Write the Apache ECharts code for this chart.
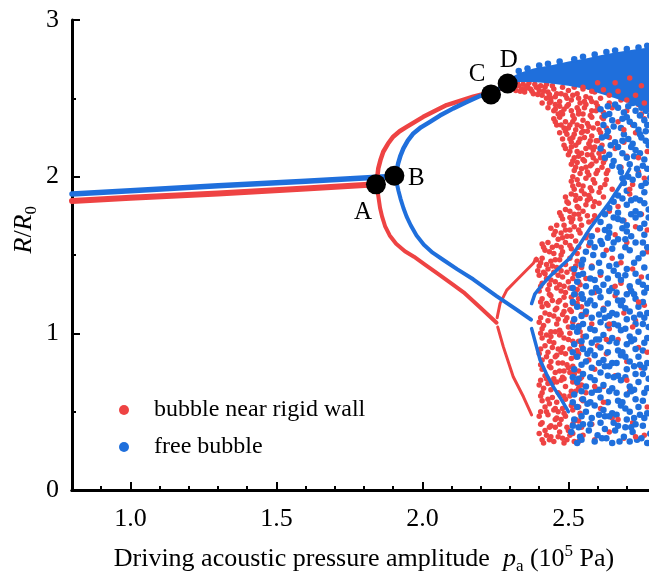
<!DOCTYPE html>
<html><head><meta charset="utf-8">
<script src="https://cdn.jsdelivr.net/npm/echarts@6/dist/echarts.min.js"></script>
<style>html,body{margin:0;padding:0;background:#fff}#c{width:649px;height:575px}</style>
</head><body><div id="c"></div>
<script>
// ---------- data ----------
const xMajorTicks = [1.0, 1.5, 2.0, 2.5];
const xMinorTicks = [0.9, 1.1, 1.2, 1.3, 1.4, 1.6, 1.7, 1.8, 1.9, 2.1, 2.2, 2.3, 2.4, 2.6, 2.7];
const yMajorTicks = [0, 1, 2, 3];
const yMinorTicks = [0.5, 1.5, 2.5];
const seriesNames = ['bubble near rigid wall', 'free bubble'];

// period-1 branches
const redP1 = [[0.8,1.845],[1.0,1.865],[1.3,1.893],[1.6,1.925],[1.845,1.952]];
const blueP1 = [[0.8,1.89],[1.0,1.91],[1.3,1.942],[1.6,1.97],[1.905,2.003]];
// period-2 branches after first bifurcation
const redUp = [[1.843,1.96],[1.849,2.053],[1.857,2.11],[1.866,2.159],[1.882,2.21],[1.90,2.255],[1.922,2.29],[1.946,2.318],[2.003,2.382],[2.083,2.457],[2.174,2.51],[2.235,2.54],[2.29,2.58]];
const redLow = [[1.845,1.93],[1.85,1.863],[1.855,1.80],[1.862,1.745],[1.872,1.685],[1.888,1.625],[1.91,1.572],[1.94,1.524],[1.971,1.489],[2.01,1.437],[2.056,1.377],[2.10,1.318],[2.141,1.262],[2.198,1.165],[2.254,1.068]];
const blueUp = [[1.912,2.04],[1.917,2.085],[1.925,2.135],[1.935,2.18],[1.95,2.23],[1.969,2.276],[1.995,2.315],[2.026,2.35],[2.06,2.39],[2.106,2.436],[2.15,2.475],[2.197,2.515],[2.235,2.53],[2.292,2.595]];
const blueLow = [[1.912,1.96],[1.918,1.91],[1.925,1.86],[1.935,1.80],[1.946,1.745],[1.96,1.69],[1.98,1.625],[2.005,1.565],[2.035,1.515],[2.072,1.468],[2.12,1.408],[2.174,1.345],[2.254,1.238],[2.32,1.155],[2.372,1.087]];
// period-4 branches
const redP2Up = [[2.256,1.10],[2.266,1.191],[2.289,1.276],[2.323,1.34],[2.357,1.404],[2.38,1.447],[2.39,1.48]];
const redP2Low = [[2.258,1.04],[2.277,0.915],[2.311,0.723],[2.346,0.595],[2.374,0.479]];
const blueP2Up = [[2.374,1.19],[2.385,1.25],[2.41,1.31],[2.44,1.37],[2.47,1.42],[2.505,1.48],[2.54,1.57],[2.574,1.67],[2.608,1.755],[2.642,1.84],[2.68,1.95],[2.71,2.05]];
const blueP2Low = [[2.374,1.03],[2.39,0.92],[2.403,0.83],[2.425,0.74],[2.448,0.66],[2.475,0.58],[2.50,0.50]];

// chaotic region, near-wall bubble
const redCloud = [
[2.31,2.57],[2.32,2.55],[2.33,2.58],[2.34,2.56],[2.35,2.54],[2.36,2.58],[2.37,2.56],[2.38,2.53],[2.39,2.57],[2.40,2.55],[2.41,2.52],[2.42,2.57],[2.43,2.54],[2.44,2.50],[2.45,2.56],[2.46,2.53],[2.47,2.48],[2.48,2.57],[2.49,2.52],[2.50,2.55],[2.51,2.49],[2.52,2.57],[2.53,2.53],[2.54,2.47],[2.55,2.56],[2.56,2.51],[2.57,2.57],[2.58,2.48],[2.59,2.54],[2.61,2.50],[2.62,2.56],[2.64,2.47],[2.66,2.53],[2.68,2.49],[2.71,2.55],[2.74,2.46],[2.77,2.52],
[2.305,2.59],[2.325,2.60],[2.345,2.59],[2.365,2.60],[2.385,2.59],[2.405,2.58],[2.425,2.59],[2.445,2.58],
[2.41,2.47],[2.43,2.44],[2.44,2.48],[2.45,2.42],[2.47,2.45],[2.48,2.40],[2.50,2.46],[2.51,2.42],[2.53,2.44],[2.55,2.40],[2.56,2.46],[2.58,2.42],[2.60,2.45],[2.62,2.41],[2.65,2.44],[2.70,2.42],[2.75,2.40],
[2.45,2.37],[2.46,2.33],[2.47,2.38],[2.49,2.35],[2.50,2.31],[2.52,2.37],[2.53,2.33],[2.55,2.36],[2.57,2.32],[2.58,2.38],[2.60,2.34],[2.62,2.37],[2.63,2.31],[2.67,2.35],[2.72,2.33],[2.76,2.37],
[2.47,2.28],[2.48,2.24],[2.49,2.29],[2.51,2.22],[2.52,2.27],[2.54,2.24],[2.55,2.29],[2.57,2.21],[2.58,2.26],[2.60,2.23],[2.61,2.28],[2.64,2.25],[2.69,2.22],[2.73,2.28],
[2.49,2.18],[2.50,2.14],[2.51,2.19],[2.52,2.12],[2.53,2.16],[2.55,2.11],[2.56,2.18],[2.58,2.14],[2.59,2.19],[2.61,2.12],[2.62,2.16],[2.66,2.18],[2.70,2.13],[2.77,2.16],
[2.51,2.08],[2.52,2.04],[2.53,2.09],[2.54,2.02],[2.56,2.06],[2.57,2.01],[2.58,2.08],[2.60,2.04],[2.62,2.09],[2.63,2.02],[2.68,2.06],[2.74,2.03],
[2.51,1.97],[2.52,1.92],[2.53,1.98],[2.55,1.94],[2.56,1.99],[2.58,1.91],[2.59,1.96],[2.61,1.93],[2.63,1.98],[2.65,1.92],[2.72,1.95],[2.76,1.99],
[2.49,1.87],[2.50,1.83],[2.51,1.89],[2.53,1.81],[2.54,1.86],[2.56,1.82],[2.57,1.88],[2.59,1.84],[2.62,1.87],[2.67,1.81],[2.71,1.89],
[2.47,1.77],[2.48,1.73],[2.49,1.79],[2.51,1.71],[2.52,1.76],[2.54,1.73],[2.55,1.78],[2.57,1.71],[2.59,1.75],[2.64,1.78],[2.69,1.72],[2.75,1.76],
[2.44,1.67],[2.45,1.63],[2.46,1.69],[2.48,1.61],[2.49,1.66],[2.51,1.62],[2.52,1.68],[2.54,1.64],[2.56,1.61],[2.60,1.66],[2.66,1.63],[2.73,1.68],
[2.41,1.57],[2.42,1.53],[2.43,1.58],[2.45,1.51],[2.46,1.56],[2.48,1.52],[2.49,1.58],[2.51,1.54],[2.53,1.51],[2.57,1.56],[2.63,1.53],[2.70,1.58],[2.77,1.52],
[2.39,1.47],[2.40,1.43],[2.41,1.48],[2.43,1.41],[2.44,1.46],[2.46,1.42],[2.47,1.47],[2.49,1.44],[2.51,1.41],[2.53,1.46],[2.58,1.43],[2.65,1.48],[2.72,1.41],
[2.40,1.37],[2.41,1.32],[2.42,1.38],[2.44,1.34],[2.45,1.39],[2.47,1.31],[2.48,1.36],[2.50,1.33],[2.52,1.38],[2.54,1.31],[2.56,1.35],[2.61,1.37],[2.68,1.32],[2.75,1.36],
[2.40,1.27],[2.41,1.22],[2.43,1.28],[2.44,1.24],[2.46,1.29],[2.47,1.21],[2.49,1.26],[2.51,1.23],[2.53,1.28],[2.55,1.22],[2.59,1.26],[2.66,1.24],[2.71,1.29],
[2.41,1.17],[2.42,1.13],[2.43,1.18],[2.45,1.11],[2.46,1.16],[2.48,1.12],[2.49,1.18],[2.51,1.14],[2.53,1.19],[2.56,1.12],[2.62,1.16],[2.69,1.13],[2.76,1.18],
[2.40,1.07],[2.41,1.03],[2.43,1.08],[2.44,1.01],[2.46,1.06],[2.47,1.02],[2.49,1.08],[2.50,1.04],[2.52,1.09],[2.54,1.01],[2.58,1.06],[2.64,1.03],[2.73,1.08],
[2.41,0.97],[2.42,0.92],[2.44,0.98],[2.45,0.94],[2.47,0.99],[2.48,0.91],[2.50,0.96],[2.52,0.93],[2.55,0.98],[2.60,0.92],[2.67,0.96],[2.74,0.91],
[2.40,0.87],[2.41,0.83],[2.43,0.88],[2.44,0.82],[2.46,0.86],[2.48,0.81],[2.49,0.87],[2.51,0.84],[2.53,0.89],[2.57,0.83],[2.63,0.87],[2.70,0.82],
[2.41,0.77],[2.42,0.73],[2.44,0.78],[2.45,0.71],[2.47,0.76],[2.48,0.72],[2.50,0.78],[2.52,0.74],[2.54,0.71],[2.59,0.77],[2.66,0.73],[2.75,0.78],
[2.40,0.67],[2.41,0.62],[2.43,0.68],[2.44,0.64],[2.46,0.69],[2.47,0.61],[2.49,0.66],[2.51,0.63],[2.53,0.68],[2.56,0.62],[2.62,0.66],[2.71,0.63],
[2.41,0.57],[2.42,0.53],[2.43,0.58],[2.45,0.51],[2.46,0.56],[2.48,0.52],[2.49,0.58],[2.51,0.54],[2.55,0.57],[2.61,0.52],[2.68,0.56],[2.77,0.53],
[2.40,0.47],[2.41,0.43],[2.43,0.48],[2.44,0.41],[2.46,0.46],[2.47,0.42],[2.49,0.47],[2.52,0.44],[2.54,0.49],[2.58,0.42],[2.65,0.46],[2.72,0.43],
[2.40,0.36],[2.41,0.32],[2.42,0.38],[2.44,0.34],[2.45,0.31],[2.47,0.37],[2.48,0.33],[2.50,0.38],[2.52,0.31],[2.55,0.35],[2.59,0.32],[2.64,0.37],[2.69,0.33],[2.76,0.35],
[2.405,1.45],[2.425,1.35],[2.435,1.25],[2.455,1.15],[2.415,1.05],[2.435,0.95],[2.425,0.85],[2.455,0.75],[2.415,0.65],[2.435,0.55],[2.455,0.45],[2.425,0.35],[2.475,1.40],[2.485,1.30],[2.465,1.20],[2.495,1.10],[2.475,1.00],[2.465,0.90],[2.495,0.80],[2.475,0.70],[2.485,0.60],[2.465,0.50],[2.495,0.40],[2.485,0.30],[2.515,1.35],[2.525,1.25],[2.505,1.15],[2.535,1.05],[2.515,0.95],[2.525,0.85],[2.505,0.75],[2.535,0.65],[2.515,0.55],[2.525,0.45],[2.505,0.35],[2.545,1.42],[2.545,1.17],[2.545,0.92],[2.545,0.67],[2.545,0.40],
[2.425,2.50],[2.455,2.46],[2.465,2.40],[2.485,2.43],[2.475,2.33],[2.495,2.27],[2.515,2.35],[2.535,2.40],[2.525,2.20],[2.545,2.28],[2.565,2.34],[2.505,2.16],[2.545,2.15],[2.575,2.23],[2.525,2.06],[2.555,2.10],[2.585,2.17],[2.535,1.95],[2.565,2.03],[2.595,2.10],[2.525,1.85],[2.555,1.89],[2.585,1.98],[2.505,1.78],[2.535,1.80],[2.575,1.86],[2.485,1.69],[2.515,1.73],[2.545,1.69],[2.465,1.60],[2.495,1.62],[2.525,1.59],[2.445,1.55],[2.475,1.50],[2.505,1.48],[2.425,1.44],[2.455,1.47],
[2.315,2.565],[2.335,2.545],[2.355,2.565],[2.375,2.545],[2.395,2.525],[2.415,2.545],[2.435,2.525],[2.455,2.51],[2.475,2.53],[2.495,2.50],[2.515,2.52],[2.535,2.50],[2.555,2.48],[2.575,2.50],[2.595,2.47],
[2.435,2.47],[2.455,2.43],[2.475,2.41],[2.495,2.45],[2.515,2.39],[2.535,2.42],[2.555,2.44],[2.575,2.39],[2.595,2.42],[2.615,2.38],
[2.455,2.35],[2.485,2.31],[2.505,2.33],[2.525,2.30],[2.545,2.32],[2.565,2.29],[2.585,2.31],[2.605,2.30],
[2.485,2.20],[2.505,2.24],[2.515,2.25],[2.535,2.22],[2.555,2.25],[2.575,2.19],[2.595,2.23],[2.615,2.20],
[2.515,2.10],[2.535,2.13],[2.565,2.14],[2.585,2.12],[2.605,2.15],[2.625,2.11],
[2.515,2.00],[2.545,2.05],[2.575,2.07],[2.595,2.02],[2.615,2.06],[2.635,2.04],
[2.515,1.94],[2.545,1.91],[2.575,1.93],[2.605,1.90],[2.625,1.95],
[2.495,1.84],[2.525,1.88],[2.565,1.85],[2.585,1.81],[2.605,1.83],
[2.475,1.75],[2.505,1.74],[2.535,1.76],[2.565,1.75],[2.585,1.72],
[2.455,1.65],[2.475,1.64],[2.505,1.66],[2.535,1.66],[2.565,1.63],
[2.415,1.55],[2.435,1.52],[2.475,1.55],[2.505,1.56],[2.535,1.55],
[2.395,1.40],[2.415,1.39],[2.445,1.43],[2.465,1.37],[2.495,1.39],[2.525,1.43],
[2.405,1.30],[2.435,1.31],[2.455,1.33],[2.475,1.27],[2.505,1.29],[2.535,1.33],
[2.405,1.20],[2.425,1.19],[2.445,1.21],[2.485,1.23],[2.515,1.19],[2.535,1.22],
[2.405,1.10],[2.435,1.12],[2.465,1.09],[2.485,1.14],[2.515,1.07],[2.545,1.12],
[2.405,1.00],[2.425,0.99],[2.455,1.01],[2.485,0.97],[2.505,1.00],[2.535,0.95],
[2.405,0.90],[2.445,0.91],[2.455,0.85],[2.475,0.88],[2.505,0.90],[2.535,0.87],
[2.405,0.80],[2.435,0.79],[2.465,0.81],[2.485,0.76],[2.515,0.79],[2.535,0.76],
[2.405,0.70],[2.425,0.71],[2.445,0.68],[2.485,0.71],[2.515,0.69],[2.545,0.72],
[2.405,0.60],[2.445,0.59],[2.465,0.62],[2.505,0.60],[2.525,0.63],[2.545,0.58],
[2.405,0.50],[2.425,0.50],[2.455,0.52],[2.485,0.49],[2.515,0.51],[2.535,0.53],
[2.405,0.42],[2.435,0.40],[2.455,0.40],[2.475,0.45],[2.515,0.42],[2.535,0.44],
[2.415,0.30],[2.435,0.32],[2.465,0.34],[2.495,0.32],[2.515,0.36],[2.535,0.31]
];

// chaotic region, free bubble
const blueBand = [[2.29,2.62],[2.33,2.66],[2.38,2.69],[2.45,2.715],[2.50,2.735],[2.56,2.755],[2.61,2.775],[2.67,2.795],[2.72,2.81],[2.78,2.825],[2.78,2.42],[2.72,2.46],[2.66,2.50],[2.61,2.53],[2.56,2.56],[2.50,2.58],[2.44,2.595],[2.38,2.605],[2.33,2.605],[2.29,2.595]];
const blueCloud = [
[2.33,2.675],[2.36,2.69],[2.40,2.71],[2.43,2.72],[2.47,2.735],[2.52,2.75],[2.55,2.765],[2.59,2.78],[2.63,2.795],[2.66,2.805],[2.70,2.815],[2.74,2.825],[2.77,2.835],
[2.61,2.43],[2.64,2.40],[2.67,2.44],[2.70,2.38],[2.73,2.42],[2.76,2.36],[2.62,2.33],[2.65,2.36],[2.68,2.31],[2.71,2.35],[2.74,2.30],[2.77,2.33],[2.63,2.26],[2.66,2.22],[2.69,2.27],[2.72,2.21],[2.75,2.25],[2.61,2.18],[2.64,2.14],[2.67,2.19],[2.70,2.12],[2.73,2.17],[2.76,2.11],[2.65,2.07],[2.68,2.03],[2.71,2.08],[2.74,2.01],[2.77,2.05],[2.69,1.96],[2.72,1.98],[2.75,1.94],[2.78,1.99],[2.66,2.46],[2.69,2.41],[2.72,2.47],[2.75,2.44],[2.78,2.39],[2.635,2.29],[2.705,2.24],[2.775,2.20],[2.655,2.10],[2.725,2.13],[2.755,2.07],
[2.56,1.52],[2.59,1.55],[2.62,1.50],[2.65,1.54],[2.68,1.49],[2.71,1.53],[2.74,1.48],[2.77,1.55],[2.58,1.62],[2.61,1.59],[2.64,1.64],[2.67,1.60],[2.70,1.65],[2.73,1.58],[2.76,1.63],[2.61,1.71],[2.64,1.68],[2.67,1.73],[2.70,1.69],[2.73,1.74],[2.76,1.70],[2.64,1.80],[2.67,1.77],[2.70,1.82],[2.73,1.78],[2.76,1.83],[2.67,1.88],[2.70,1.91],[2.73,1.86],[2.76,1.90],[2.55,1.47],[2.585,1.50],[2.615,1.57],[2.655,1.58],[2.685,1.67],[2.715,1.62],[2.745,1.76],[2.655,1.74],[2.715,1.85],[2.775,1.79],[2.695,1.55],[2.755,1.51],
[2.52,1.41],[2.55,1.38],[2.58,1.42],[2.61,1.39],[2.64,1.43],[2.67,1.37],[2.70,1.41],[2.73,1.38],[2.76,1.42],
[2.53,1.33],[2.56,1.30],[2.59,1.34],[2.62,1.31],[2.65,1.29],[2.68,1.34],[2.71,1.30],[2.74,1.33],[2.77,1.29],
[2.52,1.25],[2.55,1.22],[2.58,1.26],[2.61,1.23],[2.64,1.27],[2.67,1.21],[2.70,1.25],[2.73,1.22],[2.76,1.26],
[2.53,1.17],[2.56,1.14],[2.59,1.18],[2.62,1.15],[2.65,1.13],[2.68,1.18],[2.71,1.14],[2.74,1.17],[2.77,1.13],
[2.52,1.09],[2.55,1.06],[2.58,1.10],[2.61,1.07],[2.64,1.11],[2.67,1.05],[2.70,1.09],[2.73,1.06],[2.76,1.10],
[2.53,1.01],[2.56,0.98],[2.59,1.02],[2.62,0.99],[2.65,0.97],[2.68,1.02],[2.71,0.98],[2.74,1.01],[2.77,0.97],
[2.52,0.93],[2.55,0.90],[2.58,0.94],[2.61,0.91],[2.64,0.95],[2.67,0.89],[2.70,0.93],[2.73,0.90],[2.76,0.94],
[2.53,0.85],[2.56,0.82],[2.59,0.86],[2.62,0.83],[2.65,0.81],[2.68,0.86],[2.71,0.82],[2.74,0.85],[2.77,0.81],
[2.52,0.77],[2.55,0.74],[2.58,0.78],[2.61,0.75],[2.64,0.79],[2.67,0.73],[2.70,0.77],[2.73,0.74],[2.76,0.78],
[2.53,0.69],[2.56,0.66],[2.59,0.70],[2.62,0.67],[2.65,0.65],[2.68,0.70],[2.71,0.66],[2.74,0.69],[2.77,0.65],
[2.52,0.61],[2.55,0.58],[2.58,0.62],[2.61,0.59],[2.64,0.63],[2.67,0.57],[2.70,0.61],[2.73,0.58],[2.76,0.62],
[2.53,0.53],[2.56,0.50],[2.59,0.54],[2.62,0.51],[2.65,0.49],[2.68,0.54],[2.71,0.50],[2.74,0.53],[2.77,0.49],
[2.52,0.45],[2.55,0.42],[2.58,0.46],[2.61,0.43],[2.64,0.47],[2.67,0.41],[2.70,0.45],[2.73,0.42],[2.76,0.46],
[2.51,0.37],[2.54,0.34],[2.57,0.38],[2.60,0.35],[2.63,0.33],[2.66,0.38],[2.69,0.34],[2.72,0.37],[2.75,0.33],[2.78,0.36],
[2.53,0.30],[2.59,0.31],[2.65,0.30],[2.71,0.31],[2.77,0.30],
[2.535,1.37],[2.595,1.29],[2.655,1.40],[2.715,1.27],[2.775,1.36],[2.565,1.19],[2.625,1.10],[2.685,1.21],[2.745,1.12],[2.535,1.04],[2.595,0.96],[2.655,1.06],[2.715,0.95],[2.775,1.04],[2.565,0.87],[2.625,0.79],[2.685,0.88],[2.745,0.80],[2.535,0.71],[2.595,0.64],[2.655,0.72],[2.715,0.63],[2.775,0.71],[2.565,0.55],[2.625,0.47],[2.685,0.56],[2.745,0.48],[2.535,0.40],[2.625,0.39],[2.715,0.40],
[2.545,1.44],[2.605,1.45],[2.665,1.44],[2.725,1.45],
[2.515,1.29],[2.575,1.35],[2.635,1.35],[2.695,1.37],[2.755,1.31],
[2.545,1.25],[2.605,1.27],[2.665,1.26],[2.725,1.25],
[2.515,1.20],[2.575,1.21],[2.635,1.19],[2.695,1.16],[2.755,1.20],
[2.545,1.11],[2.605,1.12],[2.665,1.12],[2.725,1.10],
[2.515,1.04],[2.575,1.03],[2.635,1.05],[2.695,1.03],[2.755,1.06],
[2.545,0.95],[2.605,0.96],[2.665,0.94],[2.725,0.96],
[2.515,0.88],[2.575,0.89],[2.635,0.88],[2.695,0.85],[2.755,0.89],
[2.545,0.80],[2.605,0.81],[2.665,0.81],[2.725,0.79],
[2.515,0.72],[2.575,0.72],[2.635,0.73],[2.695,0.72],[2.755,0.74],
[2.545,0.63],[2.605,0.64],[2.665,0.62],[2.725,0.64],
[2.515,0.56],[2.575,0.56],[2.635,0.56],[2.695,0.52],[2.755,0.57],
[2.545,0.47],[2.605,0.48],[2.665,0.48],[2.725,0.46],
[2.515,0.41],[2.575,0.42],[2.655,0.43],[2.695,0.40],[2.755,0.41],
[2.545,0.32],[2.615,0.33],[2.675,0.31],[2.735,0.32],
[2.575,1.58],[2.635,1.61],[2.695,1.60],[2.755,1.58],[2.625,1.66],[2.685,1.72],[2.745,1.67],[2.625,1.76],[2.715,1.76],[2.775,1.74],[2.655,1.84],[2.685,1.86],[2.745,1.85],[2.685,1.99],[2.705,2.00],[2.765,1.96],[2.675,2.06],[2.735,2.05],[2.625,2.12],[2.685,2.15],[2.745,2.15],[2.645,2.20],[2.715,2.19],[2.765,2.23],[2.615,2.25],[2.685,2.23],[2.745,2.27],[2.655,2.32],[2.725,2.33],[2.765,2.29],[2.625,2.39],[2.685,2.37],[2.745,2.39],[2.635,2.45],[2.705,2.45],[2.765,2.42]
];
// red speckles visible on top of the blue band and blue cloud
const redSpeckle = [[2.55,2.57],[2.58,2.545],[2.62,2.555],[2.64,2.52],[2.67,2.545],[2.70,2.49],[2.73,2.52],[2.76,2.47],[2.60,2.60],[2.66,2.60],[2.71,2.63],[2.75,2.58],[2.68,1.45],[2.74,1.20],[2.63,0.96],[2.70,0.70],[2.62,0.56],[2.77,0.88],[2.66,1.30],[2.72,1.04],[2.69,2.30],[2.74,2.12],[2.71,1.92],[2.77,1.66],[2.64,1.06],[2.59,0.66],[2.67,0.45],[2.73,0.34]];

const markerPts = [[1.841,1.951],[1.904,2.006],[2.235,2.525],[2.292,2.595]];
const markerNames = ['A','B','C','D'];

// ---------- style ----------
const RED = '#ee4343';
const BLUE = '#1f6fdc';
const FONT = 'Liberation Serif';
const labelOffsets = [[-13,28],[22,3],[-14,-20],[1,-23]];

function lineSeries(data, color, width, z) {
  return {type:'line', data, showSymbol:false, smooth:false, lineStyle:{color, width, opacity:1, join:'round', cap:'round'}, itemStyle:{color}, silent:true, z, clip:true, animation:false};
}
function dotSeries(name, data, color, size, z) {
  const s = {type:'scatter', data, symbolSize:size, itemStyle:{color, opacity:1}, z, silent:true, large:false};
  if (name) s.name = name;
  return s;
}

const chart = echarts.init(document.getElementById('c'), null, {renderer:'canvas'});
const option = {
  animation:false,
  backgroundColor:'#fff',
  grid:{left:72, right:-7, top:20, bottom:85, containLabel:false, outerBoundsMode:'none'},
  legend:{
    data:[{name:seriesNames[0], icon:'circle'},{name:seriesNames[1], icon:'circle'}],
    orient:'vertical', left:114, top:393, itemWidth:10, itemHeight:10, itemGap:13,
    textStyle:{fontFamily:FONT, fontSize:24, color:'#000', padding:[0,0,0,20]},
    selectedMode:false
  },
  xAxis:[
    {type:'value', min:0.8, max:2.8, position:'bottom',
     axisLine:{onZero:false, lineStyle:{color:'#000', width:3}},
     axisTick:{inside:true, length:8, customValues:xMajorTicks, lineStyle:{color:'#000', width:2}},
     axisLabel:{customValues:xMajorTicks, formatter:v=>v.toFixed(1), fontFamily:FONT, fontSize:26, color:'#000', margin:16},
     splitLine:{show:false},
     name:'{n|Driving acoustic pressure amplitude  }{i|p}{sub|a}{n| (10}{sup|5}{n| Pa)}',
     nameLocation:'middle', nameGap:53,
     nameTextStyle:{fontFamily:FONT, fontSize:26, color:'#000', rich:{
       n:{fontFamily:FONT, fontSize:26, color:'#000', lineHeight:32, verticalAlign:'middle'},
       i:{fontFamily:FONT, fontSize:26, fontStyle:'italic', color:'#000', lineHeight:32, verticalAlign:'middle'},
       sub:{fontFamily:FONT, fontSize:17, color:'#000', lineHeight:14, verticalAlign:'bottom'},
       sup:{fontFamily:FONT, fontSize:17, color:'#000', lineHeight:16, verticalAlign:'top'}
     }}},
    {type:'value', min:0.8, max:2.8, position:'bottom', axisLine:{show:false},
     axisTick:{inside:true, length:4, customValues:xMinorTicks, lineStyle:{color:'#000', width:2}},
     axisLabel:{show:false}, splitLine:{show:false}},
    {type:'value', min:0.8, max:2.8, position:'top', axisLine:{lineStyle:{color:'#000', width:3}},
     axisTick:{show:false}, axisLabel:{show:false}, splitLine:{show:false}}
  ],
  yAxis:[
    {type:'value', min:0, max:3, interval:1, position:'left',
     axisLine:{show:true, onZero:false, lineStyle:{color:'#000', width:3}},
     axisTick:{show:true, inside:true, length:8, customValues:yMajorTicks, lineStyle:{color:'#000', width:2}},
     axisLabel:{customValues:yMajorTicks, fontFamily:FONT, fontSize:26, color:'#000', margin:13},
     splitLine:{show:false}},
    {type:'value', min:0, max:3, position:'left', axisLine:{show:false},
     axisTick:{show:true, inside:true, length:4, customValues:yMinorTicks, lineStyle:{color:'#000', width:2}},
     axisLabel:{show:false}, splitLine:{show:false}}
  ],
  graphic:[{
    type:'text', left:11, top:206, rotation:Math.PI/2,
    style:{text:'{i|R}{n|/}{i|R}{sub|0}', rich:{
      i:{fontFamily:FONT, fontSize:26, fontStyle:'italic', fill:'#000', lineHeight:32, verticalAlign:'middle'},
      n:{fontFamily:FONT, fontSize:26, fill:'#000', lineHeight:32, verticalAlign:'middle'},
      sub:{fontFamily:FONT, fontSize:17, fill:'#000', lineHeight:14, verticalAlign:'bottom'}
    }}
  }],
  series:[
    lineSeries(redP1, RED, 6, 3),
    lineSeries(blueP1, BLUE, 5.5, 3),
    lineSeries(redUp, RED, 4.5, 3),
    lineSeries(redLow, RED, 4, 3),
    lineSeries(blueUp, BLUE, 4.5, 4),
    lineSeries(blueLow, BLUE, 4, 4),
    lineSeries(redP2Up, RED, 3, 3),
    lineSeries(redP2Low, RED, 3, 3),
    lineSeries(blueP2Up, BLUE, 3.5, 8),
    lineSeries(blueP2Low, BLUE, 3.5, 8),
    dotSeries(seriesNames[0], redCloud, RED, 5.5, 5),
    dotSeries(seriesNames[1], blueCloud, BLUE, 6.5, 6),
    {type:'custom', data:[blueBand[0]], z:6, silent:true, clip:true,
     renderItem:(params, api)=>({type:'polygon', shape:{points:blueBand.map(p=>api.coord(p))}, style:{fill:BLUE}})},
    dotSeries(null, redSpeckle, RED, 5.5, 7),
    {type:'scatter', data:markerPts.map((p,i)=>({value:p, label:{show:true, formatter:markerNames[i], offset:labelOffsets[i]}})),
     symbolSize:20, itemStyle:{color:'#000', opacity:1}, z:10, silent:true,
     label:{position:'inside', fontFamily:FONT, fontSize:25, color:'#000'}}
  ]
};
chart.setOption(option);
</script>
</body></html>
